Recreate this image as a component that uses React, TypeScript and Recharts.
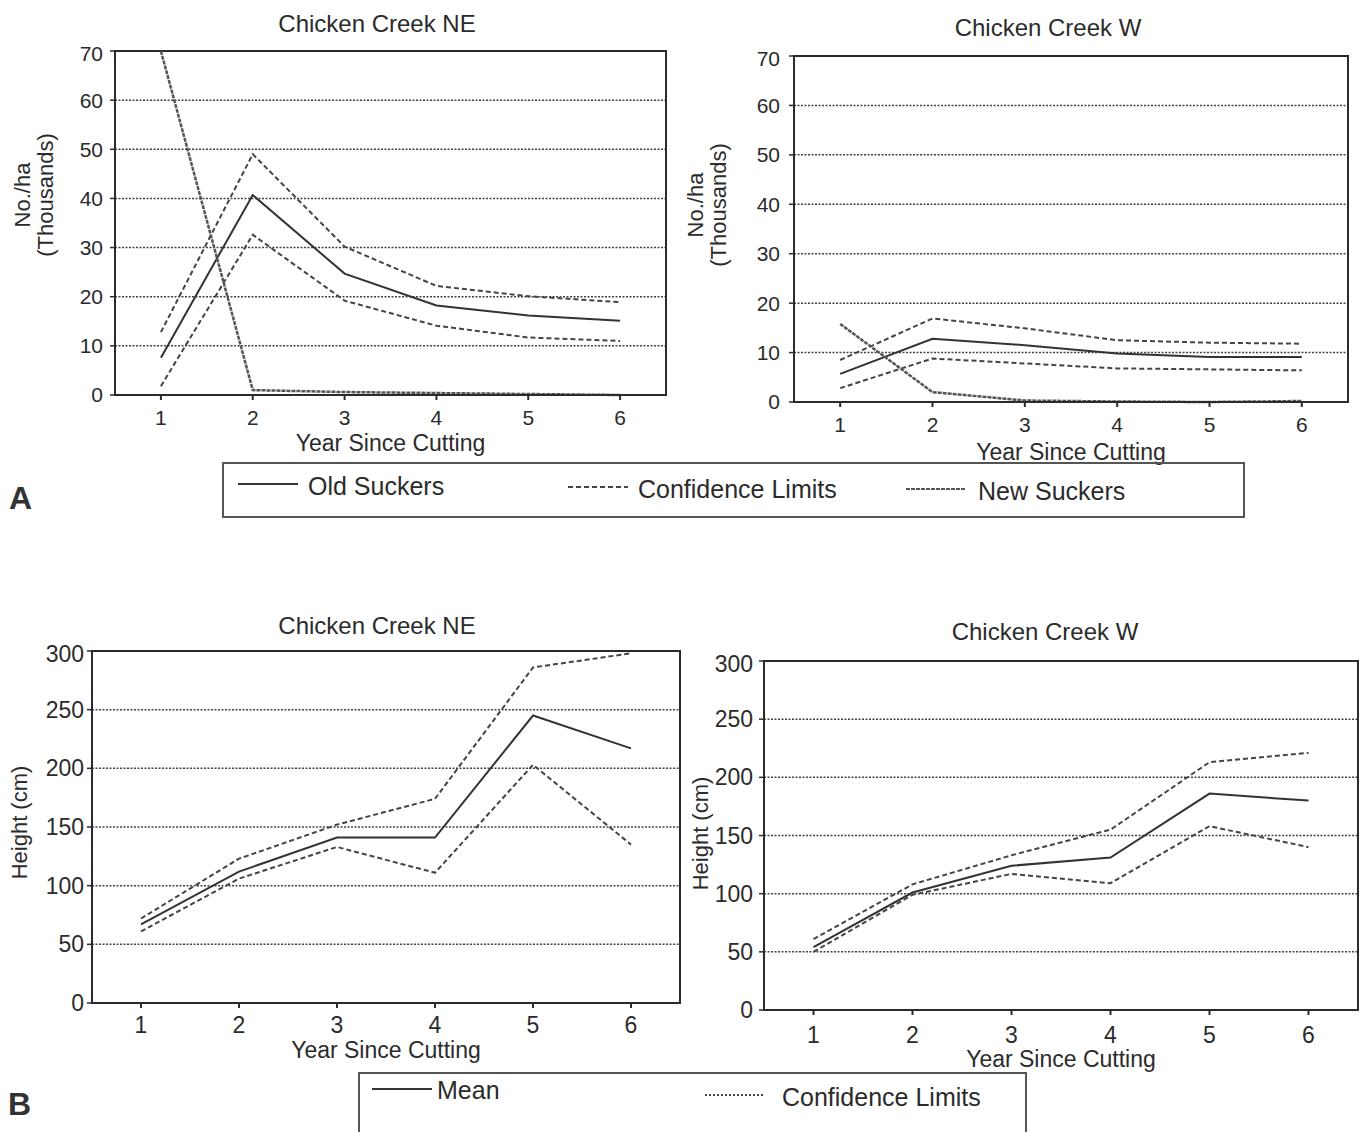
import React from 'react'
import {
  LineChart,
  Line,
  XAxis,
  YAxis,
  CartesianGrid,
  ReferenceArea,
  Label,
} from 'recharts'

const FONT = '"Liberation Sans", Arial, Helvetica, sans-serif'
const INK = '#2b2b2b'

const years = [1, 2, 3, 4, 5, 6]

// A: sucker density, thousands per ha
const densityTicks = [0, 10, 20, 30, 40, 50, 60, 70]
const neOldMean = [7.6, 40.7, 24.7, 18.2, 16.2, 15.1]
const neOldUpper = [12.8, 49, 30.2, 22.2, 20.1, 18.9]
const neOldLower = [1.8, 32.6, 19.2, 14.1, 11.7, 11]
const neNew = [70, 1, 0.6, 0.4, 0.2, 0]
const wOldMean = [5.7, 12.8, 11.5, 9.8, 9.1, 9.1]
const wOldUpper = [8.5, 16.9, 14.9, 12.5, 12, 11.8]
const wOldLower = [2.8, 8.8, 7.8, 6.8, 6.6, 6.4]
const wNew = [15.8, 2, 0.3, 0.1, 0, 0.2]

// B: sucker height, cm
const heightTicks = [0, 50, 100, 150, 200, 250, 300]
const neHeightMean = [67, 112, 141, 141, 245, 217]
const neHeightUpper = [72, 123, 152, 174, 286, 298]
const neHeightLower = [61, 106, 133, 111, 203, 135]
const wHeightMean = [54, 101, 124, 131, 186, 180]
const wHeightUpper = [61, 108, 133, 155, 213, 221]
const wHeightLower = [50, 99, 117, 109, 158, 140]

const toRows = (mean: number[], upper: number[], lower: number[], fresh?: number[]) =>
  years.map((year, i) => ({
    year,
    mean: mean[i],
    upper: upper[i],
    lower: lower[i],
    fresh: fresh ? fresh[i] : undefined,
  }))

const neDensity = toRows(neOldMean, neOldUpper, neOldLower, neNew)
const wDensity = toRows(wOldMean, wOldUpper, wOldLower, wNew)
const neHeight = toRows(neHeightMean, neHeightUpper, neHeightLower)
const wHeight = toRows(wHeightMean, wHeightUpper, wHeightLower)

const CL_DASH = '5 3'
const NEW_DASH = '4 1'

interface PanelProps {
  data: any[]
  box: { left: number; top: number; right: number; bottom: number }
  yMax: number
  yTicks: number[]
  yTickGap: number
  xTickGap: number
  labelOffset: number
  tickFont: number
  showNew?: boolean
}

function Panel({ data, box, yMax, yTicks, yTickGap, xTickGap, labelOffset, tickFont, showNew }: PanelProps) {
  const w = box.right - box.left
  const h = box.bottom - box.top
  return (
    <div style={{ position: 'absolute', left: box.left - 60, top: box.top - 10 }}>
      <LineChart
        width={w + 70}
        height={h + 90}
        data={data}
        margin={{ top: 10, right: 10, left: 0, bottom: 0 }}
      >
        <CartesianGrid
          horizontal
          vertical={false}
          stroke="#444"
          strokeWidth={1.5}
          strokeDasharray="2 1.5"
        />
        <XAxis
          dataKey="year"
          type="number"
          domain={[0.5, 6.5]}
          ticks={years}
          height={80}
          tickSize={5}
          tickMargin={xTickGap}
          axisLine={{ stroke: INK, strokeWidth: 2 }}
          tickLine={{ stroke: INK, strokeWidth: 2 }}
          tick={{ fill: INK, fontSize: tickFont, fontFamily: FONT }}
        >
          <Label
            value="Year Since Cutting"
            position="insideTop"
            offset={labelOffset}
            style={{ fill: INK, fontSize: 23, fontFamily: FONT }}
          />
        </XAxis>
        <YAxis
          type="number"
          domain={[0, yMax]}
          ticks={yTicks}
          width={60}
          tickSize={5}
          tickMargin={yTickGap}
          axisLine={{ stroke: INK, strokeWidth: 2 }}
          tickLine={{ stroke: INK, strokeWidth: 1.5 }}
          tick={{ fill: INK, fontSize: tickFont, fontFamily: FONT }}
        />
        <ReferenceArea x1={0.5} x2={6.5} y1={0} y2={yMax} fill="none" stroke={INK} strokeWidth={2} />
        <Line dataKey="upper" stroke="#444" strokeWidth={2} strokeDasharray={CL_DASH} dot={false} isAnimationActive={false} />
        <Line dataKey="lower" stroke="#444" strokeWidth={2} strokeDasharray={CL_DASH} dot={false} isAnimationActive={false} />
        <Line dataKey="mean" stroke="#333" strokeWidth={2} dot={false} isAnimationActive={false} />
        {showNew && (
          <Line dataKey="fresh" stroke="#555" strokeWidth={2.5} strokeDasharray={NEW_DASH} dot={false} isAnimationActive={false} />
        )}
      </LineChart>
    </div>
  )
}

const Title = ({ text, cx, cy }: { text: string; cx: number; cy: number }) => (
  <div
    style={{
      position: 'absolute',
      left: cx - 150,
      top: cy - 14,
      width: 300,
      height: 28,
      lineHeight: '28px',
      textAlign: 'center',
      fontSize: 24,
      color: INK,
    }}
  >
    {text}
  </div>
)

const YTitle = ({ lines, cx, cy }: { lines: string[]; cx: number; cy: number }) => {
  const hgt = lines.length * 23
  return (
    <div
      style={{
        position: 'absolute',
        left: cx - 100,
        top: cy - hgt / 2,
        width: 200,
        height: hgt,
        lineHeight: '23px',
        textAlign: 'center',
        fontSize: 22,
        color: INK,
        transform: 'rotate(-90deg)',
        transformOrigin: 'center',
      }}
    >
      {lines.map((l) => (
        <div key={l}>{l}</div>
      ))}
    </div>
  )
}

const Sample = ({ x, y, dash, color = '#444' }: { x: number; y: number; dash?: string; color?: string }) => (
  <svg style={{ position: 'absolute', left: x, top: y - 3 }} width={60} height={6}>
    <line x1={0} y1={3} x2={60} y2={3} stroke={color} strokeWidth={2} strokeDasharray={dash} />
  </svg>
)

const LegendText = ({ text, x, y }: { text: string; x: number; y: number }) => (
  <div style={{ position: 'absolute', left: x, top: y - 15, height: 30, lineHeight: '30px', fontSize: 25, color: INK }}>
    {text}
  </div>
)

export default function App() {
  return (
    <div
      style={{
        position: 'absolute',
        left: 0,
        top: 0,
        width: 1362,
        height: 1132,
        overflow: 'hidden',
        background: '#fff',
        fontFamily: FONT,
      }}
    >
      <Title text="Chicken Creek NE" cx={377} cy={24} />
      <Title text="Chicken Creek W" cx={1048} cy={28} />
      <YTitle lines={['No./ha', '(Thousands)']} cx={34} cy={195} />
      <YTitle lines={['No./ha', '(Thousands)']} cx={707} cy={205} />
      <Panel
        data={neDensity}
        box={{ left: 115, top: 51, right: 666, bottom: 395 }}
        yMax={70}
        yTicks={densityTicks}
        yTickGap={7}
        xTickGap={10}
        labelOffset={40}
        tickFont={21}
        showNew
      />
      <Panel
        data={wDensity}
        box={{ left: 794, top: 56, right: 1348, bottom: 402 }}
        yMax={70}
        yTicks={densityTicks}
        yTickGap={9}
        xTickGap={10}
        labelOffset={42}
        tickFont={21}
        showNew
      />

      <div style={{ position: 'absolute', left: 222, top: 462, width: 1019, height: 52, border: '2px solid #555' }} />
      <Sample x={238} y={484} color="#333" />
      <LegendText text="Old Suckers" x={308} y={486} />
      <Sample x={568} y={487} dash={CL_DASH} />
      <LegendText text="Confidence Limits" x={638} y={489} />
      <Sample x={906} y={489} dash={NEW_DASH} color="#555" />
      <LegendText text="New Suckers" x={978} y={491} />
      <div style={{ position: 'absolute', left: 9, top: 480, fontSize: 32, fontWeight: 'bold', color: '#333' }}>A</div>

      <Title text="Chicken Creek NE" cx={377} cy={626} />
      <Title text="Chicken Creek W" cx={1045} cy={632} />
      <YTitle lines={['Height (cm)']} cx={19} cy={822} />
      <YTitle lines={['Height (cm)']} cx={700} cy={833} />
      <Panel
        data={neHeight}
        box={{ left: 92, top: 651, right: 680, bottom: 1003 }}
        yMax={300}
        yTicks={heightTicks}
        yTickGap={3}
        xTickGap={9}
        labelOffset={39}
        tickFont={23}
      />
      <Panel
        data={wHeight}
        box={{ left: 764, top: 661, right: 1358, bottom: 1010 }}
        yMax={300}
        yTicks={heightTicks}
        yTickGap={6}
        xTickGap={12}
        labelOffset={41}
        tickFont={23}
      />

      <div style={{ position: 'absolute', left: 358, top: 1072, width: 665, height: 80, border: '2px solid #555' }} />
      <Sample x={372} y={1089} color="#333" />
      <LegendText text="Mean" x={437} y={1090} />
      <Sample x={705} y={1095} dash="2 2" />
      <LegendText text="Confidence Limits" x={782} y={1097} />
      <div style={{ position: 'absolute', left: 8, top: 1086, fontSize: 32, fontWeight: 'bold', color: '#333' }}>B</div>
    </div>
  )
}
